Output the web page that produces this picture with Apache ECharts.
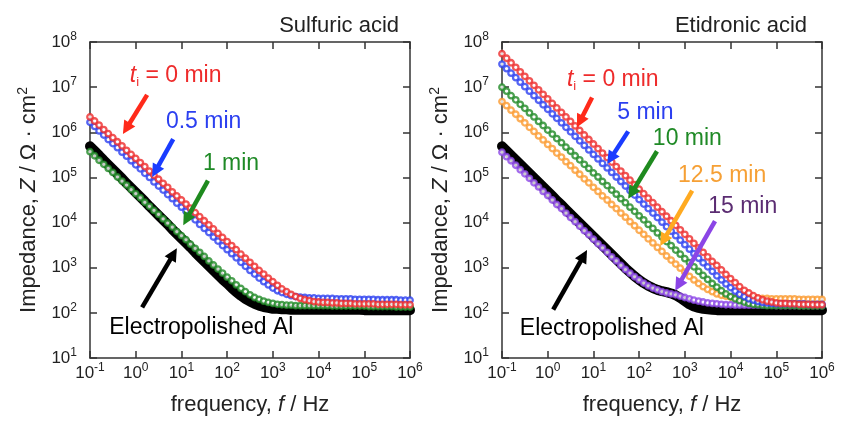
<!DOCTYPE html>
<html>
<head>
<meta charset="utf-8">
<script src="https://cdn.jsdelivr.net/npm/echarts@6/dist/echarts.min.js"></script>
<style>
html, body { margin: 0; padding: 0; background: #fff; }
#chart { width: 845px; height: 421px; }
</style>
</head>
<body>
<div id="chart"></div>
<script>
// measuring frequencies, Hz (10 points per decade, 0.1 Hz .. 1 MHz)
const freqHz = [
  0.1, 0.126, 0.158, 0.2, 0.251, 0.316, 0.398, 0.501, 0.631, 0.794,
  1, 1.26, 1.58, 2, 2.51, 3.16, 3.98, 5.01, 6.31, 7.94,
  10, 12.6, 15.8, 20, 25.1, 31.6, 39.8, 50.1, 63.1, 79.4,
  100, 126, 158, 200, 251, 316, 398, 501, 631, 794,
  1000, 1260, 1580, 2000, 2510, 3160, 3980, 5010, 6310, 7940,
  1e4, 1.26e4, 1.58e4, 2e4, 2.51e4, 3.16e4, 3.98e4, 5.01e4, 6.31e4, 7.94e4,
  1e5, 1.26e5, 1.58e5, 2e5, 2.51e5, 3.16e5, 3.98e5, 5.01e5, 6.31e5, 7.94e5,
  1e6
];

// impedance readings, stored as log10(Z / Ω·cm2), one value per frequency

// sulfuric acid panel
const sulfBare = [
  5.69, 5.59, 5.49, 5.38, 5.28, 5.18, 5.08, 4.98, 4.87, 4.77,
  4.67, 4.57, 4.47, 4.36, 4.26, 4.16, 4.06, 3.96, 3.85, 3.75,
  3.65, 3.55, 3.45, 3.34, 3.24, 3.14, 3.04, 2.94, 2.84, 2.74,
  2.65, 2.55, 2.46, 2.38, 2.31, 2.25, 2.20, 2.16, 2.13, 2.11,
  2.09, 2.09, 2.08, 2.08, 2.07, 2.07, 2.07, 2.07, 2.07, 2.07,
  2.07, 2.07, 2.07, 2.07, 2.07, 2.07, 2.07, 2.07, 2.07, 2.07,
  2.06, 2.06, 2.06, 2.06, 2.06, 2.06, 2.06, 2.06, 2.06, 2.06,
  2.06
];
const sulfT1 = [
  5.57, 5.48, 5.38, 5.29, 5.20, 5.11, 5.01, 4.92, 4.83, 4.73,
  4.64, 4.55, 4.45, 4.36, 4.27, 4.18, 4.08, 3.99, 3.90, 3.80,
  3.71, 3.62, 3.52, 3.43, 3.34, 3.25, 3.15, 3.06, 2.97, 2.88,
  2.79, 2.71, 2.62, 2.54, 2.47, 2.40, 2.34, 2.30, 2.26, 2.23,
  2.21, 2.19, 2.18, 2.17, 2.17, 2.16, 2.16, 2.16, 2.16, 2.16,
  2.16, 2.16, 2.16, 2.15, 2.15, 2.15, 2.15, 2.15, 2.15, 2.15,
  2.15, 2.14, 2.14, 2.14, 2.14, 2.14, 2.14, 2.13, 2.13, 2.13,
  2.13
];
const sulfT05 = [
  6.22, 6.13, 6.03, 5.94, 5.84, 5.75, 5.66, 5.56, 5.47, 5.37,
  5.28, 5.19, 5.09, 5.00, 4.90, 4.81, 4.72, 4.62, 4.53, 4.43,
  4.34, 4.25, 4.15, 4.06, 3.96, 3.87, 3.78, 3.68, 3.59, 3.49,
  3.40, 3.31, 3.22, 3.12, 3.03, 2.94, 2.86, 2.77, 2.69, 2.62,
  2.55, 2.49, 2.45, 2.41, 2.38, 2.36, 2.35, 2.34, 2.33, 2.33,
  2.32, 2.32, 2.32, 2.32, 2.31, 2.31, 2.31, 2.31, 2.30, 2.30,
  2.30, 2.30, 2.30, 2.29, 2.29, 2.29, 2.29, 2.29, 2.28, 2.28,
  2.28
];
const sulfT0 = [
  6.34, 6.25, 6.16, 6.06, 5.97, 5.88, 5.79, 5.70, 5.60, 5.51,
  5.42, 5.33, 5.24, 5.14, 5.05, 4.96, 4.87, 4.78, 4.68, 4.59,
  4.50, 4.41, 4.32, 4.22, 4.13, 4.04, 3.95, 3.86, 3.76, 3.67,
  3.58, 3.49, 3.40, 3.30, 3.21, 3.12, 3.03, 2.94, 2.86, 2.77,
  2.69, 2.61, 2.53, 2.47, 2.41, 2.36, 2.32, 2.29, 2.27, 2.25,
  2.24, 2.23, 2.23, 2.22, 2.22, 2.21, 2.21, 2.21, 2.20, 2.20,
  2.20, 2.20, 2.20, 2.19, 2.19, 2.19, 2.19, 2.19, 2.18, 2.18,
  2.18
];

// etidronic acid panel
const etidBare = [
  5.69, 5.59, 5.49, 5.39, 5.29, 5.19, 5.09, 4.99, 4.89, 4.79,
  4.69, 4.59, 4.49, 4.39, 4.29, 4.19, 4.09, 3.99, 3.89, 3.79,
  3.69, 3.59, 3.49, 3.39, 3.29, 3.19, 3.09, 2.99, 2.90, 2.81,
  2.73, 2.66, 2.60, 2.55, 2.51, 2.48, 2.46, 2.43, 2.39, 2.33,
  2.26, 2.19, 2.14, 2.11, 2.09, 2.08, 2.07, 2.06, 2.06, 2.06,
  2.06, 2.06, 2.06, 2.06, 2.06, 2.06, 2.06, 2.06, 2.06, 2.06,
  2.06, 2.06, 2.06, 2.06, 2.06, 2.06, 2.06, 2.06, 2.06, 2.06,
  2.06
];
const etidT15 = [
  5.56, 5.46, 5.37, 5.27, 5.17, 5.08, 4.98, 4.88, 4.79, 4.69,
  4.60, 4.50, 4.40, 4.31, 4.21, 4.11, 4.02, 3.92, 3.82, 3.73,
  3.63, 3.53, 3.44, 3.34, 3.24, 3.15, 3.05, 2.96, 2.88, 2.80,
  2.73, 2.66, 2.60, 2.55, 2.51, 2.47, 2.44, 2.42, 2.40, 2.37,
  2.34, 2.31, 2.28, 2.26, 2.24, 2.22, 2.21, 2.20, 2.19, 2.18,
  2.18, 2.17, 2.17, 2.17, 2.17, 2.17, 2.17, 2.17, 2.17, 2.17,
  2.16, 2.16, 2.16, 2.16, 2.16, 2.16, 2.16, 2.16, 2.16, 2.16,
  2.16
];
const etidT125 = [
  6.68, 6.59, 6.49, 6.40, 6.30, 6.21, 6.11, 6.02, 5.92, 5.83,
  5.73, 5.64, 5.54, 5.45, 5.35, 5.26, 5.16, 5.07, 4.97, 4.88,
  4.78, 4.69, 4.59, 4.50, 4.40, 4.31, 4.21, 4.12, 4.02, 3.93,
  3.83, 3.74, 3.64, 3.55, 3.45, 3.36, 3.26, 3.17, 3.08, 2.99,
  2.90, 2.81, 2.73, 2.65, 2.58, 2.52, 2.47, 2.42, 2.39, 2.37,
  2.35, 2.34, 2.33, 2.33, 2.32, 2.32, 2.32, 2.32, 2.32, 2.31,
  2.31, 2.31, 2.31, 2.31, 2.31, 2.30, 2.30, 2.30, 2.30, 2.30,
  2.30
];
const etidT10 = [
  7.00, 6.91, 6.81, 6.72, 6.62, 6.53, 6.43, 6.34, 6.24, 6.15,
  6.05, 5.96, 5.86, 5.77, 5.67, 5.58, 5.48, 5.39, 5.29, 5.20,
  5.10, 5.01, 4.91, 4.82, 4.72, 4.63, 4.53, 4.44, 4.34, 4.25,
  4.15, 4.06, 3.96, 3.87, 3.77, 3.68, 3.58, 3.49, 3.39, 3.30,
  3.20, 3.11, 3.02, 2.92, 2.83, 2.74, 2.65, 2.57, 2.49, 2.42,
  2.36, 2.31, 2.27, 2.24, 2.21, 2.19, 2.18, 2.17, 2.16, 2.16,
  2.16, 2.16, 2.16, 2.16, 2.16, 2.15, 2.15, 2.15, 2.15, 2.15,
  2.15
];
const etidT5 = [
  7.51, 7.41, 7.31, 7.21, 7.11, 7.01, 6.91, 6.81, 6.71, 6.61,
  6.51, 6.41, 6.31, 6.21, 6.11, 6.01, 5.91, 5.81, 5.71, 5.61,
  5.51, 5.41, 5.31, 5.21, 5.11, 5.01, 4.91, 4.81, 4.71, 4.61,
  4.51, 4.41, 4.31, 4.21, 4.11, 4.01, 3.91, 3.81, 3.71, 3.61,
  3.51, 3.41, 3.31, 3.21, 3.11, 3.02, 2.92, 2.82, 2.73, 2.64,
  2.56, 2.48, 2.41, 2.36, 2.31, 2.28, 2.25, 2.23, 2.22, 2.21,
  2.20, 2.20, 2.20, 2.20, 2.20, 2.20, 2.20, 2.19, 2.19, 2.19,
  2.19
];
const etidT0 = [
  7.74, 7.64, 7.54, 7.44, 7.34, 7.24, 7.14, 7.04, 6.94, 6.84,
  6.74, 6.64, 6.54, 6.44, 6.34, 6.24, 6.14, 6.04, 5.94, 5.84,
  5.74, 5.64, 5.54, 5.44, 5.34, 5.24, 5.14, 5.04, 4.94, 4.84,
  4.74, 4.64, 4.54, 4.44, 4.34, 4.24, 4.14, 4.04, 3.94, 3.84,
  3.74, 3.64, 3.54, 3.44, 3.34, 3.24, 3.14, 3.05, 2.95, 2.85,
  2.76, 2.67, 2.58, 2.50, 2.44, 2.38, 2.33, 2.29, 2.26, 2.24,
  2.22, 2.21, 2.21, 2.20, 2.20, 2.19, 2.19, 2.19, 2.18, 2.18,
  2.18
];

// annotations: label anchors (left/middle) and arrows, in [log10 f, log10 Z]
const sulfLabels = ['t_i = 0 min', '0.5 min', '1 min', 'Electropolished Al'];
const sulfLabelAt = [[-0.13, 7.25], [0.66, 6.24], [1.47, 5.30], [-0.58, 1.68]];
const sulfArrowFrom = [[0.25, 6.83], [0.82, 5.85], [1.58, 4.93], [0.14, 2.12]];
const sulfArrowTo = [[-0.28, 5.96], [0.36, 5.01], [1.04, 3.94], [0.90, 3.43]];

const etidLabels = ['t_i = 0 min', '5 min', '10 min', '12.5 min', '15 min', 'Electropolished Al'];
const etidLabelAt = [[0.42, 7.16], [1.52, 6.44], [2.30, 5.85], [2.85, 5.04], [3.51, 4.36], [-0.61, 1.64]];
const etidArrowFrom = [[0.97, 6.77], [1.76, 6.02], [2.39, 5.58], [3.16, 4.71], [3.66, 4.03], [0.12, 2.07]];
const etidArrowTo = [[0.64, 6.11], [1.30, 5.30], [1.76, 4.53], [2.46, 3.48], [2.79, 2.49], [0.86, 3.39]];

const FONT = '"Liberation Sans", Arial, Helvetica, sans-serif';
const INK = '#222';
const RED = '#ee2b2b', BLUE = '#2b3ff0', GREEN = '#1f8a26', ORANGE = '#fb9a2e', PURPLE = '#8b45e6';

const chart = echarts.init(document.getElementById('chart'));

const toPoints = logs => logs.map((v, i) => [freqHz[i], Math.pow(10, v)]);

const supRich = {
  b: { fontSize: 17, lineHeight: 22, fontFamily: FONT, color: INK },
  s: { fontSize: 12, lineHeight: 12, verticalAlign: 'top', fontFamily: FONT, color: INK }
};
const decadeLabel = v => '{b|10}{s|' + Math.round(Math.log10(v)) + '}';

function axis(gridIndex, position, isX, withLabels) {
  const a = {
    type: 'log',
    logBase: 10,
    gridIndex: gridIndex,
    position: position,
    min: isX ? 0.1 : 10,
    max: isX ? 1e6 : 1e8,
    splitNumber: 7,
    axisLine: { show: true, onZero: false, lineStyle: { color: '#333', width: 1.5 } },
    axisTick: { show: true, inside: true, length: 7, lineStyle: { color: '#333', width: 1.5 } },
    minorTick: { show: false },
    splitLine: { show: false },
    axisLabel: { show: false }
  };
  if (withLabels) {
    a.axisLabel = {
      show: true,
      margin: isX ? 4 : 13,
      showMinLabel: true,
      showMaxLabel: true,
      formatter: decadeLabel,
      rich: supRich
    };
    a.nameLocation = 'middle';
    a.nameTextStyle = {
      rich: {
        n: { fontSize: 22, lineHeight: 26, fontFamily: FONT, color: INK },
        i: { fontSize: 22, lineHeight: 26, fontFamily: FONT, fontStyle: 'italic', color: INK },
        s: { fontSize: 14, lineHeight: 14, verticalAlign: 'top', fontFamily: FONT, color: INK }
      }
    };
    if (isX) {
      a.name = '{n|frequency, }{i|f}{n| / Hz}';
      a.nameGap = 34;
    } else {
      a.name = '{n|Impedance, }{i|Z}{n| / Ω · cm}{s|2}';
      a.nameGap = 48;
    }
  }
  return a;
}

function bare(logs, xi, yi) {
  return {
    type: 'line', xAxisIndex: xi, yAxisIndex: yi, data: toPoints(logs), z: 1,
    symbol: 'none', showSymbol: false, clip: false, silent: true,
    lineStyle: { color: '#000', width: 10, cap: 'round', join: 'round' }
  };
}
function dots(logs, color, xi, yi, z) {
  return {
    type: 'scatter', xAxisIndex: xi, yAxisIndex: yi, data: toPoints(logs), z: z,
    symbol: 'circle', symbolSize: 5.5, clip: false, silent: true,
    itemStyle: { color: '#fff', borderColor: color, borderWidth: 2.3 }
  };
}

const titleStyle = { fontSize: 22, fontWeight: 'normal', fontFamily: FONT, color: INK };

chart.setOption({
  animation: false,
  backgroundColor: '#fff',
  title: [
    { text: 'Sulfuric acid', right: 441, top: 10, textStyle: titleStyle },
    { text: 'Etidronic acid', right: 33, top: 10, textStyle: titleStyle }
  ],
  grid: [
    { left: 90, top: 42, width: 320, height: 319 },
    { left: 502, top: 42, width: 320, height: 319 }
  ],
  xAxis: [axis(0, 'bottom', true, true), axis(0, 'top', true, false),
          axis(1, 'bottom', true, true), axis(1, 'top', true, false)],
  yAxis: [axis(0, 'left', false, true), axis(0, 'right', false, false),
          axis(1, 'left', false, true), axis(1, 'right', false, false)],
  series: [
    bare(sulfBare, 0, 0),
    dots(sulfT1, GREEN, 0, 0, 3),
    dots(sulfT05, BLUE, 0, 0, 4),
    dots(sulfT0, RED, 0, 0, 5),
    bare(etidBare, 2, 2),
    dots(etidT15, PURPLE, 2, 2, 3),
    dots(etidT125, ORANGE, 2, 2, 4),
    dots(etidT10, GREEN, 2, 2, 5),
    dots(etidT5, BLUE, 2, 2, 6),
    dots(etidT0, RED, 2, 2, 7)
  ]
});

// annotations placed through the axes of each panel
function px(seriesIndex, p) {
  return chart.convertToPixel({ seriesIndex: seriesIndex }, [Math.pow(10, p[0]), Math.pow(10, p[1])]);
}
function arrow(seriesIndex, from, to, color) {
  const p0 = px(seriesIndex, from), p1 = px(seriesIndex, to);
  const dx = p1[0] - p0[0], dy = p1[1] - p0[1], len = Math.hypot(dx, dy);
  const ux = dx / len, uy = dy / len, hl = 13, hw = 6.5;
  const bx = p1[0] - ux * hl, by = p1[1] - uy * hl;
  return [
    { type: 'line', silent: true, z: 20, shape: { x1: p0[0], y1: p0[1], x2: bx + ux * 2, y2: by + uy * 2 },
      style: { stroke: color, lineWidth: 4.5 } },
    { type: 'polygon', silent: true, z: 20,
      shape: { points: [[p1[0], p1[1]], [bx - uy * hw, by + ux * hw], [bx + uy * hw, by - ux * hw]] },
      style: { fill: color } }
  ];
}
function label(seriesIndex, text, at, color) {
  const p = px(seriesIndex, at);
  const tok = { fontSize: 23, lineHeight: 26, fontFamily: FONT, fill: color };
  let t = text, rich;
  if (text.indexOf('t_i') === 0) {
    t = '{t|t}{i|i}{n|' + text.slice(3) + '}';
    rich = {
      t: Object.assign({}, tok, { fontStyle: 'italic' }),
      i: { fontSize: 13, lineHeight: 12, verticalAlign: 'bottom', fontFamily: FONT, fill: color },
      n: tok
    };
  }
  return { type: 'text', silent: true, z: 20, x: p[0], y: p[1],
    style: { text: t, rich: rich, fill: color, fontSize: 23, fontFamily: FONT, align: 'left', verticalAlign: 'middle' } };
}

const sulfColors = [RED, BLUE, GREEN, '#000'];
const sulfArrowColors = ['#ff2a1a', '#1a3cff', '#1e8a1e', '#000'];
const etidColors = [RED, BLUE, GREEN, '#f6a035', '#5b2c72', '#000'];
const etidArrowColors = ['#ff2a1a', '#1a3cff', '#1e8a1e', '#ffaa20', PURPLE, '#000'];

let graphic = [];
sulfLabels.forEach((s, k) => {
  graphic = graphic.concat(arrow(0, sulfArrowFrom[k], sulfArrowTo[k], sulfArrowColors[k]));
  graphic.push(label(0, s, sulfLabelAt[k], sulfColors[k]));
});
etidLabels.forEach((s, k) => {
  graphic = graphic.concat(arrow(4, etidArrowFrom[k], etidArrowTo[k], etidArrowColors[k]));
  graphic.push(label(4, s, etidLabelAt[k], etidColors[k]));
});
chart.setOption({ graphic: graphic });
</script>
</body>
</html>
